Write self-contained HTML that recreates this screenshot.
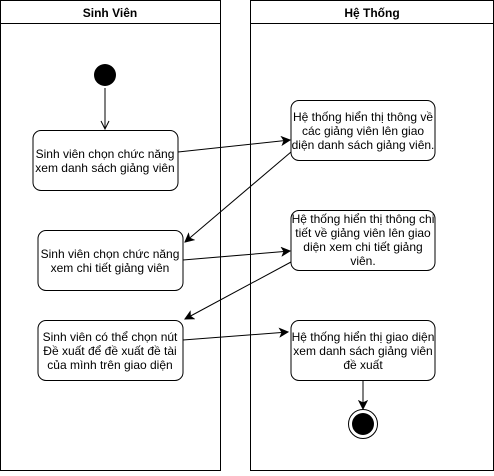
<!DOCTYPE html>
<html><head><meta charset="utf-8"><style>body{margin:0;background:#fff}</style></head><body>
<svg width="494" height="471" xmlns="http://www.w3.org/2000/svg" font-family="Liberation Sans, sans-serif">
<defs><marker id="a" markerWidth="10" markerHeight="10" refX="9" refY="5" orient="auto" markerUnits="userSpaceOnUse"><path d="M1,1 L9,5 L1,9 L3,5 Z" fill="#000" stroke="#000"/></marker>
<marker id="o" markerWidth="10" markerHeight="10" refX="9" refY="5" orient="auto" markerUnits="userSpaceOnUse"><path d="M1,1 L9,5 L1,9" fill="none" stroke="#000"/></marker></defs>
<g fill="none" stroke="#000">
<rect x="0.5" y="0.5" width="220" height="470"/><line x1="0.5" y1="23.5" x2="220.5" y2="23.5"/>
<rect x="250.5" y="0.5" width="243" height="470"/><line x1="250.5" y1="23.5" x2="493.5" y2="23.5"/>
<rect x="33" y="130.5" width="145" height="60" rx="8"/>
<rect x="38" y="230.5" width="145" height="60" rx="8"/>
<rect x="38" y="320.5" width="145" height="60" rx="8"/>
<rect x="291" y="100.5" width="144" height="60" rx="8"/>
<rect x="291" y="210.5" width="144" height="60" rx="8"/>
<rect x="291" y="320.5" width="144" height="60" rx="8"/>
<line x1="105" y1="88" x2="105" y2="129" marker-end="url(#o)"/>
<line x1="178" y1="152" x2="290" y2="140" marker-end="url(#a)"/>
<line x1="291" y1="152" x2="185" y2="242" marker-end="url(#a)"/>
<line x1="183" y1="260" x2="290" y2="251" marker-end="url(#a)"/>
<line x1="291" y1="262" x2="185" y2="319" marker-end="url(#a)"/>
<line x1="183" y1="340" x2="288" y2="332" marker-end="url(#a)"/>
<line x1="363" y1="381" x2="363" y2="409" marker-end="url(#a)"/>
<circle cx="363" cy="424" r="14.5"/>
</g>
<circle cx="105" cy="75" r="11" fill="#000"/>
<circle cx="363" cy="424" r="11" fill="#000"/>
<g font-size="12" text-anchor="middle" fill="#000">
<text x="110" y="17" font-weight="bold">Sinh Viên</text>
<text x="372" y="17" font-weight="bold">Hệ Thống</text>
<text x="105" y="158">Sinh viên chọn chức năng</text><text x="105" y="172">xem danh sách giảng viên</text>
<text x="110" y="258">Sinh viên chọn chức năng</text><text x="110" y="272">xem chi tiết giảng viên</text>
<text x="110" y="341">Sinh viên có thể chọn nút</text><text x="110" y="355">Đề xuất để đề xuất đề tài</text><text x="110" y="369">của mình trên giao diện</text>
<text x="363" y="121">Hệ thống hiển thị thông về</text><text x="363" y="135">các giảng viên lên giao</text><text x="363" y="149">diện danh sách giảng viên.</text>
<text x="363" y="223">Hệ thống hiển thị thông chi</text><text x="363" y="237">tiết về giảng viên lên giao</text><text x="363" y="251">diện xem chi tiết giảng</text><text x="363" y="265">viên.</text>
<text x="363" y="341">Hệ thống hiển thị giao diện</text><text x="363" y="355">xem danh sách giảng viên</text><text x="363" y="369">đề xuất</text>
</g>
</svg>
</body></html>
